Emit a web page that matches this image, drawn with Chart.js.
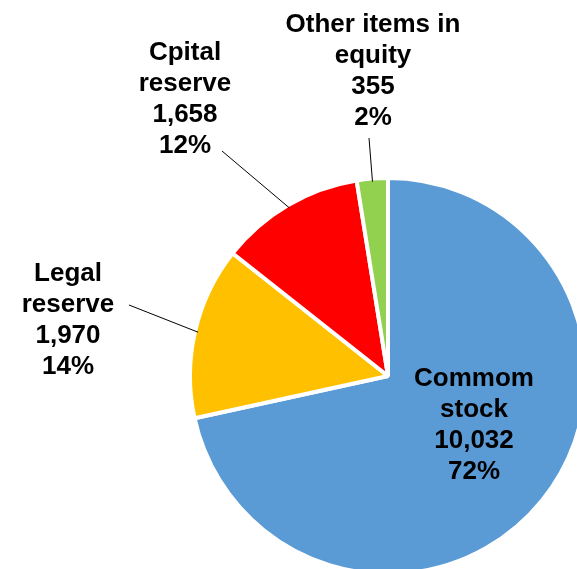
<!DOCTYPE html>
<html>
<head>
<meta charset="utf-8">
<script src="https://cdn.jsdelivr.net/npm/chart.js@4.4.0/dist/chart.umd.min.js"></script>
<style>
    html, body { margin: 0; padding: 0; background: #fff; overflow: hidden; width: 577px; height: 569px; }
    #wrap { position: absolute; left: 0; top: 0; width: 776px; height: 752px; }
</style>
</head>
<body>
<div id="wrap"><canvas id="pie" width="776" height="752"></canvas></div>
<script>
const categories = ["Commom stock", "Legal reserve", "Cpital reserve", "Other items in equity"];
const labelLines = [
    ["Commom", "stock"],
    ["Legal", "reserve"],
    ["Cpital", "reserve"],
    ["Other items in", "equity"],
];
const values = [10032, 1970, 1658, 355];
const percents = ["72%", "14%", "12%", "2%"];
const colors = ["#5B9BD5", "#FFC000", "#FF0000", "#92D050"];

// label block centre, relative to the pie centre
const labelOffsets = [
    [86, 49],
    [-320, -56],
    [-203, -277],
    [-15, -305],
];
// label end of leader line (null = no leader)
const leaderEnds = [
    null,
    [-259, -71],
    [-166, -225],
    [-19, -238],
];

const fmt = (v) => v.toLocaleString("en-US");

const pieLabels = {
    id: "pieLabels",
    afterDatasetsDraw(chart) {
        const ctx = chart.ctx;
        const meta = chart.getDatasetMeta(0);
        ctx.save();
        meta.data.forEach((arc, i) => {
            const cx = arc.x;
            const cy = arc.y;
            const mid = (arc.startAngle + arc.endAngle) / 2;

            if (leaderEnds[i]) {
                const r = arc.outerRadius - 3;
                ctx.beginPath();
                ctx.moveTo(cx + leaderEnds[i][0], cy + leaderEnds[i][1]);
                ctx.lineTo(cx + Math.cos(mid) * r, cy + Math.sin(mid) * r);
                ctx.strokeStyle = "#000";
                ctx.lineWidth = 1;
                ctx.stroke();
            }

            const lines = [...labelLines[i], fmt(values[i]), percents[i]];
            const lh = 31;
            const x = cx + labelOffsets[i][0];
            const y0 = cy + labelOffsets[i][1] - (lines.length - 1) * lh / 2;
            ctx.font = "bold 26px 'Liberation Sans', Arial, sans-serif";
            ctx.fillStyle = "#000";
            ctx.textAlign = "center";
            ctx.textBaseline = "middle";
            lines.forEach((t, k) => ctx.fillText(t, x, y0 + k * lh));
        });
        ctx.restore();
    },
};

new Chart(document.querySelector("#pie"), {
    type: "pie",
    data: {
        labels: categories,
        datasets: [
            {
                data: values,
                backgroundColor: colors,
                borderColor: "#ffffff",
                borderWidth: 4,
            },
        ],
    },
    options: {
        responsive: false,
        animation: false,
        radius: 198,
        layout: { padding: 0 },
        plugins: {
            legend: { display: false },
            tooltip: { enabled: false },
        },
    },
    plugins: [pieLabels],
});
</script>
</body>
</html>
